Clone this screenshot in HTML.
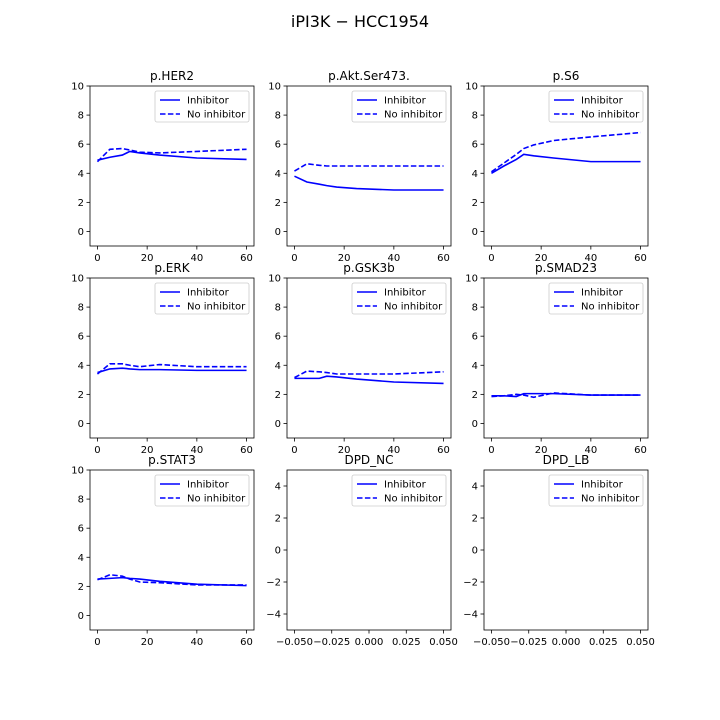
<!DOCTYPE html>
<html><head><meta charset="utf-8"><style>
body{margin:0;background:#fff;}
svg{display:block;font-family:"DejaVu Sans","Liberation Sans",sans-serif;}
</style></head><body>
<svg id="c" width="720" height="720" xmlns="http://www.w3.org/2000/svg">
<rect width="720" height="720" fill="#fff"/>
<text x="360" y="27" font-size="16" text-anchor="middle">iPI3K − HCC1954</text>
</svg>
<script>
const times = [0,5,10,13,17,25,40,60];
const panelTitles = ["p.HER2","p.Akt.Ser473.","p.S6","p.ERK","p.GSK3b","p.SMAD23","p.STAT3","DPD_NC","DPD_LB"];
const inhibitor = [
 [4.9,5.1,5.25,5.5,5.4,5.25,5.05,4.95],
 [3.8,3.4,3.25,3.15,3.05,2.95,2.85,2.85],
 [4.0,4.5,4.95,5.3,5.2,5.05,4.8,4.8],
 [3.5,3.75,3.8,3.75,3.7,3.7,3.65,3.65],
 [3.1,3.1,3.1,3.25,3.2,3.05,2.85,2.75],
 [1.9,1.9,1.85,2.05,2.05,2.05,1.95,1.95],
 [2.5,2.55,2.6,2.55,2.5,2.35,2.15,2.05]
];
const noInhibitor = [
 [4.8,5.65,5.7,5.6,5.45,5.4,5.5,5.65],
 [4.15,4.65,4.55,4.5,4.5,4.5,4.5,4.5],
 [4.1,4.7,5.3,5.7,5.95,6.25,6.5,6.8],
 [3.4,4.1,4.1,4.0,3.9,4.05,3.9,3.9],
 [3.15,3.6,3.55,3.5,3.4,3.4,3.4,3.55],
 [1.85,1.9,2.0,1.95,1.8,2.1,1.95,1.95],
 [2.45,2.8,2.7,2.5,2.3,2.25,2.1,2.1]
];
const yTicks = [0,2,4,6,8,10];
const xTicks = [0,20,40,60];
const yTicksEmpty = [-4,-2,0,2,4];
const xTicksEmpty = [-0.05,-0.025,0,0.025,0.05];
const xTickLabelsEmpty = ["−0.050","−0.025","0.000","0.025","0.050"];

const svg = document.getElementById('c');
const NS = "http://www.w3.org/2000/svg";
function mk(tag, attrs, parent){const e=document.createElementNS(NS,tag);for(const k in attrs)e.setAttribute(k,attrs[k]);(parent||svg).appendChild(e);return e;}
const colX=[90,287,484], rowY=[86,278,470], W=164, H=160;

panelTitles.forEach((title,i)=>{
  const x0=colX[i%3], y0=rowY[Math.floor(i/3)];
  const g=mk('g',{});
  
  
  const empty = i>=7;
  const xmin = empty?-0.055:-3, xmax = empty?0.055:63;
  const ymin = empty?-5:-1, ymax = empty?5:10;
  const sx=v=>x0+(v-xmin)/(xmax-xmin)*W;
  const sy=v=>y0+H-(v-ymin)/(ymax-ymin)*H;
  const yt = empty?yTicksEmpty:yTicks, xt = empty?xTicksEmpty:xTicks;
  yt.forEach(v=>{
    mk('line',{x1:x0-3.5,x2:x0,y1:sy(v),y2:sy(v),stroke:'#000','stroke-width':0.8},g);
    const t=mk('text',{x:x0-6,y:sy(v)+3.5,'font-size':10,'text-anchor':'end'},g);
    t.textContent = v<0?'−'+(-v):String(v);
    
    
  });
  xt.forEach((v,k)=>{
    mk('line',{x1:sx(v),x2:sx(v),y1:y0+H,y2:y0+H+3.5,stroke:'#000','stroke-width':0.8},g);
    const t=mk('text',{x:sx(v),y:y0+H+15,'font-size':10,'text-anchor':'middle'},g);
    t.textContent = empty?xTickLabelsEmpty[k]:String(v);
    
    
  });
  if(!empty){
    [[inhibitor[i],null,'line-inhibitor'],[noInhibitor[i],'5.5,2.4','line-no-inhibitor']].forEach(([vals,dash,nm])=>{
      const p=mk('polyline',{points:times.map((t,k)=>sx(t)+','+sy(vals[k])).join(' '),fill:'none',stroke:'#0000ff','stroke-width':1.6},g);
      if(dash)p.setAttribute('stroke-dasharray',dash);
      
      
    });
  }
  mk('rect',{x:x0,y:y0,width:W,height:H,fill:'none',stroke:'#000','stroke-width':0.8},g);
  const tt=mk('text',{x:x0+W/2,y:y0-6,'font-size':12,'text-anchor':'middle'},g);
  tt.textContent=title;
  
  
  const lg=mk('g',{},g);
  
  
  mk('rect',{x:x0+W-99,y:y0+5,width:94,height:31,rx:2,fill:'#fff',stroke:'#ccc','stroke-width':0.8},lg);
  mk('line',{x1:x0+W-94,x2:x0+W-74,y1:y0+14,y2:y0+14,stroke:'#0000ff','stroke-width':1.6},lg);
  mk('line',{x1:x0+W-94,x2:x0+W-74,y1:y0+28,y2:y0+28,stroke:'#0000ff','stroke-width':1.6,'stroke-dasharray':'5.5,2.4'},lg);
  const l1=mk('text',{x:x0+W-67,y:y0+17.5,'font-size':10},lg);l1.textContent='Inhibitor';
  
  
  const l2=mk('text',{x:x0+W-67,y:y0+31.5,'font-size':10},lg);l2.textContent='No inhibitor';
  
  
});
</script>
</body></html>
